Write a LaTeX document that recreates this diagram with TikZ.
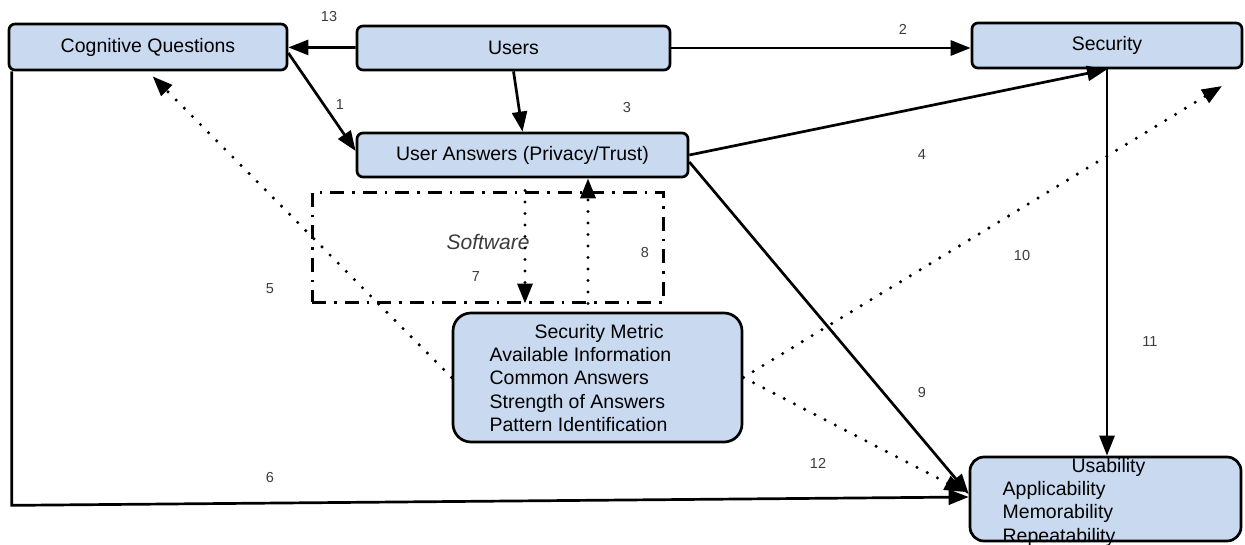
\documentclass[tikz,border=0pt]{standalone}
\usepackage{fontspec}
\setmainfont{Liberation Sans}
\usetikzlibrary{arrows.meta,calc}
\definecolor{boxfill}{RGB}{201,218,240}
\definecolor{labelgray}{RGB}{60,60,60}

\begin{document}
\begin{tikzpicture}[x=1pt,y=-1pt,
  box/.style={draw=black, line width=2.7pt, fill=boxfill, rounded corners=6pt, inner sep=0pt},
  boxtext/.style={font=\fontsize{19.5}{23.3}\selectfont, inner sep=0pt},
  link/.style={line width=2.7pt, -{Triangle[length=20pt,width=15pt]}},
  dotlink/.style={line width=3.4pt, line cap=round, dash pattern=on 0pt off 11.5pt,
                  -{Triangle[length=20pt,width=15pt]}},
  num/.style={font=\fontsize{14.5}{16}\selectfont, text=labelgray, inner sep=0pt},
  swframe/.style={draw=black, line width=3pt, dash pattern=on 14pt off 8pt on 2.5pt off 8pt,
                  inner sep=0pt},
]
\useasboundingbox (0,0) rectangle (1245,544);
\fill[white] (0,0) rectangle (1245,544);

% boxes
\node[box, boxtext, minimum width=278pt, minimum height=46pt] (cq) at (148,47) {Cognitive Questions};
\node[box, boxtext, minimum width=313pt, minimum height=44pt] (users) at (513.5,48) {Users};
\node[box, boxtext, minimum width=270pt, minimum height=45pt] (sec) at (1107,45.5) {Security};
\node[box, boxtext, minimum width=331pt, minimum height=44pt] (ua) at (522.5,155) {User Answers (Privacy/Trust)};

% software frame
\node[swframe, minimum width=351pt, minimum height=110pt] (sw) at (487.5,247) {};
\node[boxtext, font=\fontsize{21}{24}\selectfont\itshape, text=labelgray] (swlabel) at (488,242) {Software};

% metric and usability boxes
\node[box, rounded corners=18pt, minimum width=289pt, minimum height=129pt] (sm) at (597.5,377.5) {};
\node[boxtext, align=left] (smtext) at (580.5,378)
  {\hspace*{45pt}Security Metric\\Available Information\\Common Answers\\Strength of Answers\\Pattern Identification};
\node[box, rounded corners=14pt, minimum width=271pt, minimum height=84pt] (usab) at (1105.5,499) {};
\node[boxtext, align=left] (usabtext) at (1074,502)
  {\hspace*{69pt}Usability\\Applicability\\Memorability\\Repeatability};

% free ends
\coordinate (cqtip) at ($(cq.south west)+(145,5)$);
\coordinate (p10) at (1222,86);

% solid connectors
\draw[link] (users) -- (cq);
\draw[link] (users.east) -- (sec.west |- users.east);
\draw[link] ($(cq.east)+(0,6)$) -- ($(ua.west)+(0,-4)$);
\draw[link] (users.south) -- (ua.north);
\draw[link] (ua.east) -- (sec.south);
\draw[link] ($(ua.east)+(0,7)$) -- ($(usab.west)+(0,-5)$);
\draw[link] (sec.south) -- (usab.north -| sec.south);
\draw[link] ($(cq.south west)+(4,0)$) -- ++(0,434) -- ($(usab.west)+(0,-2)$);

% dotted connectors
\draw[dotlink] (sm.west) -- (cqtip);
\draw[dotlink] (sm.east) -- (p10);
\draw[dotlink] (sm.east) -- ($(usab.west)+(-4,-7)$);
\draw[dotlink] ([xshift=37.5pt]sw.north) -- ([xshift=37.5pt]sw.south);
\draw[dotlink] ([xshift=100.5pt]sw.south) -- ([xshift=65.5pt]ua.south);

% numbers
\node[num] (n13) at (329,17) {13};
\node[num] (n1) at (340,105) {1};
\node[num] (n3) at (627,108) {3};
\node[num] (n2) at (903,29) {2};
\node[num] (n4) at (922,155) {4};
\node[num] (n10) at (1022,256) {10};
\node[num] (n8) at (645,253) {8};
\node[num] (n7) at (476,277) {7};
\node[num] (n5) at (270,289) {5};
\node[num] (n11) at (1150,342) {11};
\node[num] (n9) at (922,393) {9};
\node[num] (n12) at (818,463) {12};
\node[num] (n6) at (270,478) {6};
\end{tikzpicture}
\end{document}
